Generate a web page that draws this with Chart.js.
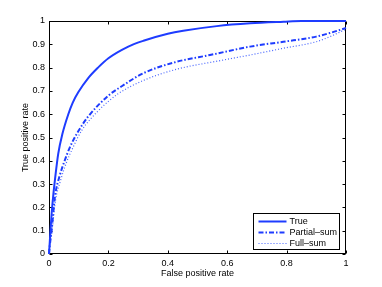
<!DOCTYPE html>
<html><head><meta charset="utf-8">
<script src="https://cdn.jsdelivr.net/npm/chart.js@4"></script>
<style>html,body{margin:0;padding:0;background:#fff}#wrap{width:382px;height:287px}</style>
</head><body><div id="wrap"><canvas id="c" width="382" height="287"></canvas></div>
<script>
const xTickValues = [0, 0.2, 0.4, 0.6, 0.8, 1];
const yTickValues = [0, 0.1, 0.2, 0.3, 0.4, 0.5, 0.6, 0.7, 0.8, 0.9, 1];
const seriesNames = ['True', 'Partial\u2013sum', 'Full\u2013sum'];

const trueFpr = [0, 0.003, 0.006, 0.009, 0.015, 0.02, 0.031, 0.045, 0.065, 0.08, 0.099, 0.132, 0.165, 0.2, 0.267, 0.318, 0.4, 0.452, 0.565, 0.677, 0.79, 0.85, 1];
const trueTpr = [0, 0.06, 0.12, 0.175, 0.26, 0.318, 0.43, 0.515, 0.6, 0.65, 0.695, 0.755, 0.8, 0.84, 0.89, 0.915, 0.945, 0.958, 0.978, 0.99, 0.997, 1, 1];

const partialFpr = [0, 0.003, 0.009, 0.02, 0.037, 0.054, 0.071, 0.1, 0.132, 0.2, 0.245, 0.318, 0.43, 0.542, 0.677, 0.789, 0.9, 0.95, 1];
const partialTpr = [0, 0.04, 0.103, 0.246, 0.34, 0.405, 0.46, 0.53, 0.59, 0.68, 0.72, 0.776, 0.825, 0.854, 0.89, 0.911, 0.933, 0.95, 0.97];

const fullFpr = [0, 0.003, 0.01, 0.022, 0.04, 0.058, 0.08, 0.11, 0.166, 0.2, 0.233, 0.318, 0.43, 0.576, 0.677, 0.789, 0.9, 0.95, 1];
const fullTpr = [0, 0.04, 0.1, 0.23, 0.32, 0.39, 0.455, 0.53, 0.615, 0.655, 0.688, 0.745, 0.793, 0.83, 0.854, 0.883, 0.911, 0.935, 0.965];

const pts = (xs, ys) => xs.map((v, i) => ({x: v, y: ys[i]}));
const FONT = "'Liberation Sans', Arial, Helvetica, sans-serif";

const frame = {
  id: 'frame',
  beforeDatasetsDraw(chart) {
    const {ctx, chartArea: a, scales: {x, y}} = chart;
    ctx.save();
    ctx.strokeStyle = '#000';
    ctx.lineWidth = 1;
    const L = Math.round(a.left) + 0.5, R = Math.round(a.right) - 0.5;
    const T = Math.round(a.top) + 0.5, B = Math.round(a.bottom) - 0.5;
    ctx.strokeRect(L, T, R - L, B - T);
    ctx.beginPath();
    xTickValues.forEach(v => {
      const px = Math.round(x.getPixelForValue(v)) + 0.5;
      ctx.moveTo(px, B); ctx.lineTo(px, B - 3);
      ctx.moveTo(px, T); ctx.lineTo(px, T + 3);
    });
    yTickValues.forEach(v => {
      const py = Math.round(y.getPixelForValue(v)) + 0.5;
      ctx.moveTo(L, py); ctx.lineTo(L + 3, py);
      ctx.moveTo(R, py); ctx.lineTo(R - 3, py);
    });
    ctx.stroke();
    ctx.restore();
  },
  afterDraw(chart) {
    const {ctx, chartArea: a} = chart;
    const w = 86, h = 36;
    const bx = Math.round(a.right) - 7 - w + 0.5, by = Math.round(a.bottom) - 5 - h + 0.5;
    ctx.save();
    ctx.fillStyle = '#fff';
    ctx.fillRect(bx, by, w, h);
    ctx.strokeStyle = '#000';
    ctx.lineWidth = 1;
    ctx.strokeRect(bx, by, w, h);
    ctx.font = '9px ' + FONT;
    ctx.textBaseline = 'middle';
    ctx.fillStyle = '#000';
    chart.data.datasets.forEach((ds, i) => {
      const ry = Math.round(by + 7 + i * 11.3) + 0.5;
      ctx.beginPath();
      ctx.strokeStyle = ds.borderColor;
      ctx.lineWidth = ds.borderWidth;
      ctx.setLineDash(ds.borderDash || []);
      ctx.moveTo(bx + 5, ry);
      ctx.lineTo(bx + 33, ry);
      ctx.stroke();
      ctx.setLineDash([]);
      ctx.fillText(ds.label, bx + 36, ry);
    });
    ctx.restore();
  }
};

new Chart(document.getElementById('c'), {
  type: 'scatter',
  data: {
    datasets: [
      {label: seriesNames[0], data: pts(trueFpr, trueTpr), showLine: true, borderColor: 'rgb(30,60,255)', borderWidth: 2, pointRadius: 0, cubicInterpolationMode: 'monotone', clip: 3},
      {label: seriesNames[1], data: pts(partialFpr, partialTpr), showLine: true, borderColor: 'rgb(30,60,255)', borderWidth: 2, borderDash: [5, 2, 1.5, 2], pointRadius: 0, cubicInterpolationMode: 'monotone', clip: 3},
      {label: seriesNames[2], data: pts(fullFpr, fullTpr), showLine: true, borderColor: 'rgb(70,100,255)', borderWidth: 1.2, borderDash: [1, 2], pointRadius: 0, cubicInterpolationMode: 'monotone', clip: 3}
    ]
  },
  options: {
    responsive: false,
    devicePixelRatio: 1,
    animation: false,
    layout: {padding: {left: 0, top: 21, right: 36, bottom: 0}},
    plugins: {legend: {display: false}, tooltip: {enabled: false}},
    scales: {
      x: {
        type: 'linear', min: 0, max: 1,
        afterBuildTicks: s => { s.ticks = xTickValues.map(v => ({value: v})); },
        afterFit: s => { s.height = 33; },
        grid: {display: false, drawTicks: false}, border: {display: false},
        ticks: {padding: 4, color: '#000', font: {size: 9, family: FONT}, maxRotation: 0, autoSkip: false, callback: v => String(v)},
        title: {display: true, text: 'False positive rate', color: '#000', font: {size: 9, family: FONT}, padding: {top: 0, bottom: 8}}
      },
      y: {
        type: 'linear', min: 0, max: 1,
        afterBuildTicks: s => { s.ticks = yTickValues.map(v => ({value: v})); },
        afterFit: s => { s.width = 49; },
        grid: {display: false, drawTicks: false}, border: {display: false},
        ticks: {padding: 4, color: '#000', font: {size: 9, family: FONT}, autoSkip: false, callback: v => String(v)},
        title: {display: true, text: 'True positive rate', color: '#000', font: {size: 9, family: FONT}, padding: {top: 20, bottom: 0}}
      }
    }
  },
  plugins: [frame]
});
</script>
</body></html>
